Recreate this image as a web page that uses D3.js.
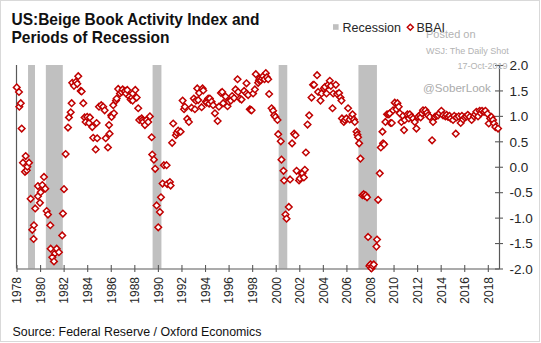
<!DOCTYPE html>
<html>
<head>
<meta charset="utf-8">
<script src="https://cdn.jsdelivr.net/npm/d3@7"></script>
<style>
  html, body { margin: 0; padding: 0; background: #fff; }
  svg { display: block; font-family: Arial, "Liberation Sans", sans-serif; }
</style>
</head>
<body>
<svg id="chart" width="541" height="343"></svg>
<script>
// ---------- data ----------
const titleLines = ["US:Beige Book Activity Index and", "Periods of Recession"];
const sourceText = "Source: Federal Reserve  / Oxford Economics";
const legendLabels = ["Recession", "BBAI"];
const watermark = ["Posted on", "WSJ: The Daily Shot", "17-Oct-2019", "@SoberLook"];

const xTickYears = d3.range(1978, 2019, 2);
const yTickValues = [-2, -1.5, -1, -0.5, 0, 0.5, 1, 1.5, 2];

const recessionStart = [1978.98, 1980.49, 1989.55, 2000.25, 2007.02];
const recessionEnd   = [1979.57, 1981.93, 1990.30, 2000.98, 2008.59];

// BBAI observations: [decimal year, index value]
const bbai = [
  [1978.02,1.56],[1978.21,1.47],[1978.24,1.18],[1978.36,1.25],[1978.44,0.75],[1978.55,0.08],[1978.72,-0.10],[1978.78,0.21],
  [1978.87,-0.07],[1978.92,0.00],[1979.06,0.08],[1979.20,-0.63],[1979.34,-1.24],[1979.45,-1.42],[1979.48,-1.15],[1979.59,-0.82],
  [1979.82,-0.38],[1979.82,-0.58],[1979.99,-0.71],[1980.05,-0.50],[1980.19,-0.36],[1980.33,-0.20],[1980.44,-0.43],[1980.56,-0.87],
  [1980.67,-0.94],[1980.87,-1.15],[1980.90,-1.61],[1981.04,-1.78],[1981.18,-1.86],[1981.27,-1.70],[1981.41,-1.61],[1981.60,-1.68],
  [1981.88,-1.35],[1981.94,-0.92],[1982.03,-0.44],[1982.17,0.25],
  [1982.37,0.77],[1982.45,0.97],[1982.60,1.07],[1982.68,1.25],[1982.73,1.65],[1982.88,1.59],[1983.05,1.67],[1983.16,1.63],
  [1983.24,1.78],[1983.45,1.49],[1983.53,1.48],[1983.67,1.25],[1983.78,0.97],[1983.87,0.88],[1984.00,0.98],[1984.15,0.86],
  [1984.23,0.97],[1984.43,0.78],[1984.51,0.57],[1984.72,0.34],[1984.80,0.86],[1984.85,0.56],[1985.00,1.18],[1985.19,1.21],
  [1985.36,1.18],[1985.48,1.11],[1985.57,0.56],[1985.76,0.38],[1985.85,0.82],[1985.90,0.65],[1986.04,1.01],[1986.07,0.98],
  [1986.21,1.21],[1986.27,1.05],
  [1986.44,1.30],[1986.50,1.34],[1986.63,1.53],[1986.78,1.44],[1986.92,1.47],[1987.01,1.52],[1987.20,1.49],[1987.29,1.44],
  [1987.40,1.51],[1987.57,1.38],[1987.69,1.32],[1987.80,1.36],[1987.86,1.30],[1987.86,1.44],[1988.08,1.51],[1988.20,1.36],
  [1988.33,1.15],[1988.42,0.92],[1988.62,0.95],[1988.70,0.92],[1988.75,0.88],[1988.90,0.82],[1989.04,0.92],[1989.18,0.88],
  [1989.32,0.99],[1989.47,0.58],[1989.52,0.24],[1989.66,0.14],[1989.77,-0.04],[1989.89,-0.76],[1990.03,-1.19],[1990.17,-0.89],
  [1990.26,-0.60],[1990.40,-0.33],[1990.51,0.03],[1990.74,0.03],[1990.79,-0.34],[1991.02,-0.30],[1991.08,-0.37],
  [1991.21,0.47],[1991.30,0.85],[1991.53,0.62],[1991.60,0.67],[1991.72,0.71],[1991.93,0.69],[1992.10,1.30],[1992.22,1.13],
  [1992.29,1.18],[1992.49,0.94],[1992.63,0.88],[1992.86,1.16],[1993.05,1.34],[1993.14,1.13],[1993.22,1.30],[1993.34,1.54],
  [1993.42,1.31],[1993.50,1.45],[1993.71,1.17],[1993.79,1.54],[1993.85,1.50],[1994.07,1.28],[1994.13,1.26],[1994.27,1.34],
  [1994.35,1.24],[1994.41,1.34],[1994.56,1.28],[1994.69,1.21],[1994.84,1.05],
  [1995.07,0.90],[1995.18,1.18],[1995.35,1.45],[1995.46,1.47],[1995.54,1.25],[1995.74,1.38],[1995.91,1.19],[1996.02,1.28],
  [1996.19,1.30],[1996.30,1.39],[1996.47,1.35],[1996.59,1.52],[1996.76,1.72],[1996.81,1.47],[1996.96,1.34],[1997.10,1.32],
  [1997.32,1.49],[1997.52,1.64],[1997.52,1.44],[1997.66,1.41],[1997.80,1.13],[1997.88,1.12],[1997.95,1.11],[1998.08,1.44],
  [1998.23,1.52],[1998.31,1.82],[1998.51,1.65],[1998.58,1.70],[1998.65,1.74],[1998.74,1.70],[1998.85,1.74],[1998.93,1.78],
  [1999.05,1.72],[1999.16,1.84],[1999.25,1.76],[1999.36,1.72],[1999.44,1.43],[1999.65,1.15],[1999.78,1.10],[1999.87,1.01],
  [1999.98,0.98],[2000.15,0.92],[2000.21,0.64],[2000.43,0.50],[2000.49,0.14],[2000.66,-0.08],[2000.71,-0.27],[2000.83,-0.94],
  [2000.92,-1.02],[2001.11,-0.79],[2001.22,-0.25],[2001.39,0.46],[2001.56,0.65],[2001.68,0.62],[2001.77,-0.08],[2001.98,-0.27],
  [2002.05,-0.23],[2002.19,-0.13],[2002.27,-0.13],[2002.39,-0.21],[2002.47,-0.06],[2002.56,0.28],[2002.70,0.83],[2002.84,1.01],
  [2003.04,1.36],[2003.17,1.61],[2003.25,1.61],[2003.51,1.80],[2003.60,1.47],[2003.80,1.30],[2003.89,1.44],[2004.08,1.54],
  [2004.18,1.57],[2004.31,1.44],[2004.45,1.61],[2004.59,1.69],[2004.68,1.59],[2004.82,1.15],[2004.88,1.44],[2005.10,1.61],
  [2005.21,1.43],[2005.38,1.45],[2005.50,1.36],[2005.58,1.30],[2005.62,0.95],[2005.78,0.88],[2005.86,0.92],[2006.00,0.95],
  [2006.14,1.15],[2006.28,0.93],[2006.43,0.98],[2006.52,1.03],[2006.63,0.93],[2006.71,0.88],[2006.86,0.69],[2006.93,0.63],
  [2006.99,0.58],[2007.08,0.46],[2007.19,0.16],[2007.36,-0.56],[2007.47,-0.54],[2007.55,-0.57],[2007.64,-0.56],[2007.75,-0.60],
  [2007.84,-1.38],[2007.95,-1.95],[2008.04,-1.92],[2008.13,-2.00],[2008.22,-1.95],[2008.32,-1.92],[2008.55,-1.57],[2008.60,-1.43],
  [2008.69,-0.65],[2008.83,-0.13],[2008.92,0.38],[2009.06,0.69],[2009.11,0.46],[2009.20,0.44],[2009.31,0.88],[2009.45,1.03],
  [2009.60,1.03],[2009.68,1.05],[2009.74,0.86],[2009.85,0.86],[2009.96,1.11],
  [2010.10,1.26],[2010.25,1.13],[2010.33,1.25],[2010.44,1.18],[2010.53,1.05],[2010.67,0.88],[2010.80,1.00],[2010.89,0.72],
  [2010.95,0.92],[2011.18,1.03],[2011.30,0.95],[2011.38,1.03],[2011.52,0.98],[2011.66,0.95],[2011.80,0.88],[2011.94,0.75],
  [2012.08,0.98],[2012.22,1.01],[2012.30,0.97],[2012.42,1.05],[2012.50,1.11],[2012.71,1.11],[2012.84,1.06],[2012.93,1.01],
  [2013.07,0.98],[2013.27,0.52],[2013.35,0.88],[2013.50,0.98],[2013.65,1.00],[2013.78,1.01],[2013.90,1.05],[2014.06,1.10],
  [2014.20,1.01],[2014.40,0.99],[2014.50,1.02],[2014.62,0.98],[2014.75,1.00],[2014.85,0.95],[2015.05,0.92],[2015.15,1.00],
  [2015.28,0.65],[2015.34,0.97],[2015.53,0.99],[2015.70,0.86],[2015.80,1.00],[2015.90,0.93],[2016.04,0.97],[2016.18,0.99],
  [2016.30,1.02],[2016.46,0.98],[2016.63,0.92],[2016.83,0.99],[2016.92,1.03],[2017.03,1.08],[2017.17,0.99],[2017.31,1.10],
  [2017.40,1.05],[2017.51,1.10],[2017.68,1.08],[2017.80,1.10],[2017.97,1.04],[2018.08,0.85],[2018.20,0.95],[2018.31,0.98],
  [2018.44,0.92],[2018.53,0.85],[2018.64,0.78],[2018.87,0.75]
];

// ---------- layout ----------
const svg = d3.select("#chart");
const W = 541, H = 343;
const plot = { left: 16.5, right: 499, top: 65, bottom: 268.5 };
const red = "#c00000";
const grey = "#c0c0c0";
const axisColor = "#595959";
const textColor = "#262626";

svg.append("rect").attr("x", 0).attr("y", 0).attr("width", W).attr("height", H).attr("fill", "#fff");
svg.append("rect").attr("x", 0.5).attr("y", 0.5).attr("width", 539).attr("height", 341)
  .attr("fill", "none").attr("stroke", "#d9d9d9").attr("stroke-width", 1);

const x = d3.scaleLinear().domain([1978, 2018.95]).range([plot.left, plot.right]);
const y = d3.scaleLinear().domain([-2, 2]).range([plot.bottom, plot.top]);

// recession bars
svg.append("g").selectAll("rect")
  .data(recessionStart.map((s, i) => [s, recessionEnd[i]]))
  .join("rect")
  .attr("x", d => x(d[0]))
  .attr("width", d => x(d[1]) - x(d[0]))
  .attr("y", y(2))
  .attr("height", y(-2) - y(2))
  .attr("fill", grey);

// left frame line
svg.append("line")
  .attr("x1", plot.left).attr("x2", plot.left)
  .attr("y1", y(2)).attr("y2", y(-2))
  .attr("stroke", axisColor).attr("stroke-width", 1.2);

// x axis
const xAxis = svg.append("g")
  .attr("transform", `translate(0,${y(-2)})`)
  .call(d3.axisBottom(x).tickValues(xTickYears).tickFormat(d3.format("d")).tickSize(4).tickSizeOuter(0));
xAxis.select(".domain").attr("stroke", axisColor).attr("stroke-width", 1.2);
xAxis.selectAll(".tick line").attr("stroke", axisColor).attr("y1", -3.5).attr("y2", 3.5).attr("stroke-width", 1.1);
xAxis.selectAll(".tick text")
  .attr("fill", textColor)
  .attr("font-size", 12)
  .attr("transform", "rotate(-90)")
  .attr("text-anchor", "end")
  .attr("x", -8.5)
  .attr("y", 0)
  .attr("dy", "0.36em");

// y axis (right)
const yAxis = svg.append("g")
  .attr("transform", `translate(${plot.right},0)`)
  .call(d3.axisRight(y).tickValues(yTickValues).tickFormat(d => d.toFixed(1)).tickSize(4).tickSizeOuter(0));
yAxis.select(".domain").attr("stroke", axisColor).attr("stroke-width", 1.2);
yAxis.selectAll(".tick line").attr("stroke", axisColor).attr("x1", -4).attr("x2", 4).attr("stroke-width", 1.1);
yAxis.selectAll(".tick text")
  .attr("fill", textColor)
  .attr("font-size", 13.5)
  .attr("x", 10.5)
  .attr("text-anchor", "start")
  .attr("dy", "0.35em");

// markers
const diamond = "M0,-3.3L3.3,0L0,3.3L-3.3,0Z";
svg.append("g").selectAll("path")
  .data(bbai)
  .join("path")
  .attr("d", diamond)
  .attr("transform", d => `translate(${x(d[0])},${y(d[1])})`)
  .attr("fill", "#fff")
  .attr("stroke", red)
  .attr("stroke-width", 1.5);

// title
svg.append("text").attr("x", 11.5).attr("y", 24.5)
  .attr("font-size", 16.5).attr("font-weight", "bold").attr("fill", "#111")
  .attr("textLength", 248).attr("lengthAdjust", "spacingAndGlyphs")
  .text(titleLines[0]);
svg.append("text").attr("x", 11.5).attr("y", 42.5)
  .attr("font-size", 16.5).attr("font-weight", "bold").attr("fill", "#111")
  .attr("textLength", 158).attr("lengthAdjust", "spacingAndGlyphs")
  .text(titleLines[1]);

// watermark
svg.append("text").attr("x", 426).attr("y", 38.3).attr("font-size", 11).attr("fill", "#b3b3b3").text(watermark[0]);
svg.append("text").attr("x", 426).attr("y", 54).attr("font-size", 9).attr("fill", "#b3b3b3").text(watermark[1]);
svg.append("text").attr("x", 507.5).attr("y", 69.3).attr("font-size", 9).attr("fill", "#b3b3b3")
  .attr("text-anchor", "end").text(watermark[2]);
svg.append("text").attr("x", 423).attr("y", 91.5).attr("font-size", 11.6).attr("fill", "#ababab").text(watermark[3]);

// legend
const lg = svg.append("g");
lg.append("rect").attr("x", 333).attr("y", 24.2).attr("width", 5.6).attr("height", 5.6).attr("fill", grey);
lg.append("text").attr("x", 342.5).attr("y", 31.5).attr("font-size", 12.5).attr("fill", textColor).text(legendLabels[0]);
lg.append("path").attr("d", "M0,-3L3,0L0,3L-3,0Z").attr("transform", "translate(410.3,27.3)")
  .attr("fill", "#fff").attr("stroke", red).attr("stroke-width", 1.5);
lg.append("text").attr("x", 416.5).attr("y", 31.5).attr("font-size", 12.5).attr("fill", textColor).text(legendLabels[1]);

// source
svg.append("text").attr("x", 12.5).attr("y", 336.3).attr("font-size", 12.5).attr("fill", "#111")
  .attr("textLength", 249).attr("lengthAdjust", "spacingAndGlyphs")
  .text(sourceText);
</script>
</body>
</html>
